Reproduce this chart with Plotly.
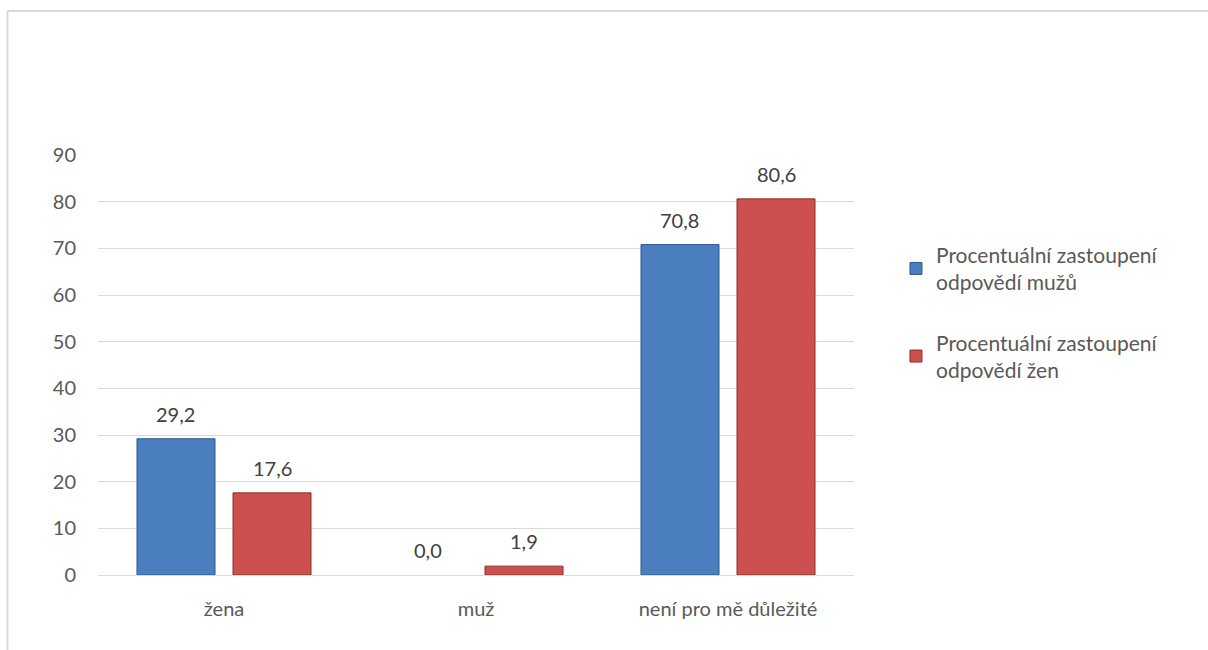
import plotly.graph_objects as go

# Survey answers and percentage share per respondent group
categories = ["žena", "muž", "není pro mě důležité"]
men_pct = [29.2, 0.0, 70.8]
women_pct = [17.6, 1.9, 80.6]
series_names = [
    "Procentuální zastoupení<br>odpovědí mužů",
    "Procentuální zastoupení<br>odpovědí žen",
]
y_ticks = [0, 10, 20, 30, 40, 50, 60, 70, 80, 90]

FONT = "Lato, Open Sans, sans-serif"
FONT_SIZE = 20
TEXT_COLOR = "#595959"
GRID_COLOR = "#d9d9d9"

# plot-area geometry (px)
PLOT_L, PLOT_R, PLOT_T, PLOT_B = 98, 854, 155, 575
BAR_GAP = 0.238
GROUP_GAP = 0.1875
slot_px = (PLOT_R - PLOT_L) / len(categories) * (1 - BAR_GAP) / 2

fig = go.Figure()

series = [
    (men_pct, series_names[0], "#4a7ebf", "#2e5a8e", "men", -1),
    (women_pct, series_names[1], "#cc504d", "#8c2f2c", "women", 1),
]
for values, name, fill, edge, group, side in series:
    fig.add_trace(go.Bar(
        x=categories,
        y=values,
        name=name,
        legendgroup=group,
        marker=dict(color=fill,
                    line=dict(color=edge, width=[1 if v > 0 else 0 for v in values])),
        cliponaxis=False,
    ))
    # value labels above each bar
    for cat, v in zip(categories, values):
        fig.add_annotation(
            x=cat, y=v, xref="x", yref="y",
            text=f"{v:.1f}".replace(".", ","),
            showarrow=False,
            xshift=side * slot_px / 2,
            yshift=25,
            yanchor="middle",
            font=dict(family=FONT, size=FONT_SIZE, color="#404040"),
        )

# Light frame around the chart area (top and left edges visible)
W = PLOT_R - PLOT_L
H = PLOT_B - PLOT_T
frame = dict(type="line", xref="paper", yref="paper",
             line=dict(color=GRID_COLOR, width=2), layer="below")
fig.add_shape(frame, x0=(7.5 - PLOT_L) / W, x1=(1215 - PLOT_L) / W,
              y0=(PLOT_B - 11) / H, y1=(PLOT_B - 11) / H)
fig.add_shape(frame, x0=(7.5 - PLOT_L) / W, x1=(7.5 - PLOT_L) / W,
              y0=(PLOT_B - 11) / H, y1=(PLOT_B - 660) / H)

fig.update_layout(
    width=1208,
    height=650,
    margin=dict(l=PLOT_L, r=1208 - PLOT_R, t=PLOT_T, b=650 - PLOT_B, pad=0),
    paper_bgcolor="white",
    plot_bgcolor="white",
    separators=", ",
    barmode="group",
    bargap=BAR_GAP,
    bargroupgap=GROUP_GAP,
    font=dict(family=FONT, size=FONT_SIZE, color=TEXT_COLOR),
    showlegend=True,
    legend=dict(
        xref="container", yref="container",
        x=0.7417, y=0.639, xanchor="left", yanchor="top",
        font=dict(family=FONT, size=21, color=TEXT_COLOR),
        tracegroupgap=30,
        itemwidth=30,
        bgcolor="rgba(0,0,0,0)",
    ),
    xaxis=dict(
        showgrid=False,
        showline=True,
        linecolor=GRID_COLOR,
        linewidth=1,
        ticks="",
        ticklabelstandoff=16,
        tickfont=dict(family=FONT, size=FONT_SIZE, color=TEXT_COLOR),
    ),
    yaxis=dict(
        range=[0, 90],
        tickvals=y_ticks,
        showgrid=True,
        gridcolor=GRID_COLOR,
        gridwidth=1,
        zeroline=False,
        showline=False,
        ticks="",
        ticklabelstandoff=21,
        tickfont=dict(family=FONT, size=FONT_SIZE, color=TEXT_COLOR),
    ),
)

fig.write_html("out.html")
